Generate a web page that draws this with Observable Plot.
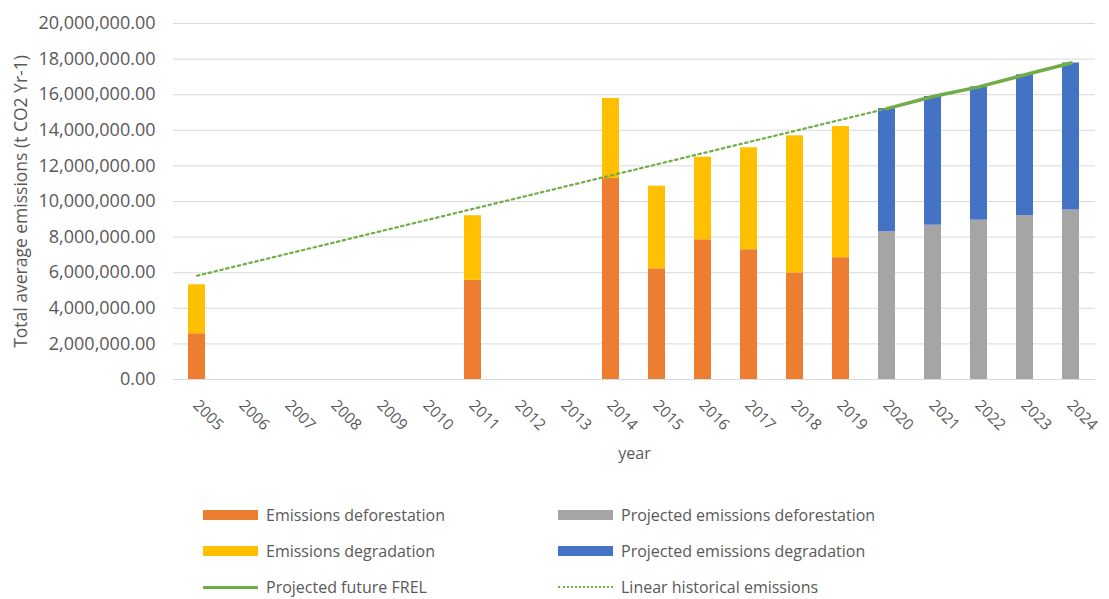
<!DOCTYPE html>
<html>
<head>
<meta charset="utf-8">
<script src="https://cdn.jsdelivr.net/npm/d3@7"></script>
<script src="https://cdn.jsdelivr.net/npm/@observablehq/plot@0.6"></script>
<style>
  html, body { margin: 0; padding: 0; background: #fff; }
  body { width: 1109px; height: 599px; position: relative; overflow: hidden; font-family: "Open Sans", sans-serif; }
  #chart { position: absolute; left: 0; top: 0; }
  #legend { position: absolute; left: 203px; top: 497px; display: grid; grid-template-columns: 355px 355px; grid-auto-rows: 36px; color: #595959; font-size: 16px; line-height: 20px; }
  .item { display: flex; align-items: center; }
  .sw { width: 55px; height: 10px; margin-right: 8px; flex: none; }
  .ln { width: 55px; height: 0; margin-right: 8px; flex: none; }
</style>
</head>
<body>
<div id="chart"></div>
<div id="legend"></div>
<script>
// ---- data (tonnes CO2 per year) ----
const years = ["2005","2006","2007","2008","2009","2010","2011","2012","2013","2014",
               "2015","2016","2017","2018","2019","2020","2021","2022","2023","2024"];

const histYears = ["2005","2011","2014","2015","2016","2017","2018","2019"];
const histDeforestation = [2570000, 5580000, 11290000, 6220000, 7850000, 7290000, 5990000, 6840000];
const histDegradation   = [2750000, 3620000, 4500000, 4640000, 4640000, 5730000, 7700000, 7370000];

const projYears = ["2020","2021","2022","2023","2024"];
const projDeforestation = [8300000, 8670000, 8950000, 9210000, 9520000];
const projDegradation   = [6920000, 7230000, 7490000, 7910000, 8260000];

const frelYears  = ["2020","2021","2022","2023","2024"];
const frelValues = [15220000, 15900000, 16440000, 17120000, 17780000];

const linearYears  = ["2005","2020"];
const linearValues = [5830000, 15220000];

const yTicks = [0, 2000000, 4000000, 6000000, 8000000, 10000000, 12000000, 14000000, 16000000, 18000000, 20000000];

const seriesNames = ["Emissions deforestation", "Emissions degradation",
                     "Projected emissions deforestation", "Projected emissions degradation"];
const seriesColors = ["#ED7D31", "#FFC000", "#A5A5A5", "#4472C4"];
const frelName = "Projected future FREL";
const linearName = "Linear historical emissions";
const lineColor = "#70AD47";

// ---- build tables ----
const bars = [];
histYears.forEach((y, i) => {
  bars.push({year: y, series: seriesNames[0], value: histDeforestation[i]});
  bars.push({year: y, series: seriesNames[1], value: histDegradation[i]});
});
projYears.forEach((y, i) => {
  bars.push({year: y, series: seriesNames[2], value: projDeforestation[i]});
  bars.push({year: y, series: seriesNames[3], value: projDegradation[i]});
});
const frel = frelYears.map((y, i) => ({year: y, value: frelValues[i]}));
const linear = linearYears.map((y, i) => ({year: y, value: linearValues[i]}));

const textColor = "#595959";

const chart = Plot.plot({
  width: 1109,
  height: 480,
  marginLeft: 173,
  marginRight: 14,
  marginTop: 23,
  marginBottom: 101,
  style: {fontFamily: "'Open Sans', sans-serif", color: textColor, background: "#fff"},
  x: {type: "band", domain: years, paddingInner: 0.63, paddingOuter: 0.315, axis: null},
  y: {domain: [0, 20000000], axis: null},
  color: {domain: seriesNames, range: seriesColors},
  marks: [
    Plot.gridY(yTicks, {stroke: "#d9d9d9", strokeOpacity: 1, strokeWidth: 1}),
    Plot.axisY(yTicks, {tickSize: 0, tickPadding: 18, tickFormat: d3.format(",.2f"), fontSize: 18, label: null, style: {letterSpacing: "0.8px"}}),
    Plot.barY(bars, {x: "year", y: "value", fill: "series"}),
    Plot.line(linear, {x: "year", y: "value", stroke: lineColor, strokeWidth: 2.2, strokeDasharray: "2.5,3.5"}),
    Plot.line(frel, {x: "year", y: "value", stroke: lineColor, strokeWidth: 3.5}),
    Plot.text(years, {x: d => d, text: d => d, frameAnchor: "bottom", rotate: 45, textAnchor: "start", lineAnchor: "top", dx: 3, dy: 19, fontSize: 15.5, fill: textColor}),
    Plot.text(["year"], {text: d => d, frameAnchor: "bottom", dy: 79, fontSize: 16, fill: textColor}),
    Plot.text(["Total average emissions (t CO2 Yr-1)"], {text: d => d, frameAnchor: "left", rotate: -90, textAnchor: "middle", lineAnchor: "middle", dx: -152, fontSize: 17.5, fill: textColor, style: {letterSpacing: "0.5px"}})
  ]
});
document.getElementById("chart").appendChild(chart);

// ---- legend ----
const legendItems = [
  {label: seriesNames[0], kind: "swatch", color: seriesColors[0]},
  {label: seriesNames[2], kind: "swatch", color: seriesColors[2]},
  {label: seriesNames[1], kind: "swatch", color: seriesColors[1]},
  {label: seriesNames[3], kind: "swatch", color: seriesColors[3]},
  {label: frelName, kind: "solid", color: lineColor},
  {label: linearName, kind: "dotted", color: lineColor}
];
const legend = document.getElementById("legend");
legendItems.forEach(it => {
  const d = document.createElement("div");
  d.className = "item";
  const s = document.createElement("span");
  if (it.kind === "swatch") { s.className = "sw"; s.style.background = it.color; }
  else if (it.kind === "solid") { s.className = "ln"; s.style.borderTop = `3px solid ${it.color}`; }
  else { s.className = "ln"; s.style.borderTop = `2px dotted ${it.color}`; }
  const t = document.createElement("span");
  t.textContent = it.label;
  d.appendChild(s); d.appendChild(t);
  legend.appendChild(d);
});
</script>
</body>
</html>
